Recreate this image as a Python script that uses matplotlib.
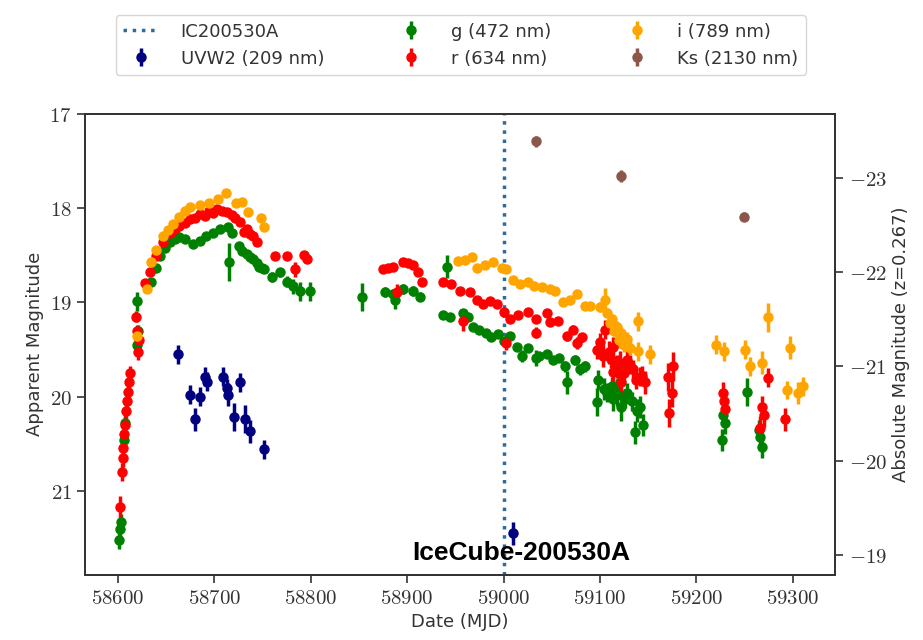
import numpy as np
import matplotlib
matplotlib.use('Agg')
import matplotlib.pyplot as plt
from matplotlib.ticker import FuncFormatter

plt.rcParams['mathtext.fontset'] = 'cm'
plt.rcParams['font.family'] = ['DejaVu Sans']

# neutrino arrival and distance modulus (z=0.267)
t_nu = 59000
dm = 40.68

# UVW2 (209 nm)
uvw2_t = [58662, 58675, 58680, 58685, 58690, 58693, 58709, 58713, 58714, 58721, 58727, 58732, 58737, 58752, 59010]
uvw2_m = [19.55, 19.98, 20.24, 20.00, 19.79, 19.84, 19.79, 19.91, 19.98, 20.22, 19.85, 20.24, 20.37, 20.56, 21.45]
uvw2_e = [0.10, 0.10, 0.12, 0.10, 0.10, 0.10, 0.10, 0.10, 0.12, 0.15, 0.10, 0.15, 0.12, 0.10, 0.12]

# g (472 nm)
g_t = [58601, 58602, 58603, 58607, 58608, 58620, 58621, 58620,
       58635, 58640, 58644, 58649, 58654, 58659, 58664, 58670, 58678, 58685, 58692, 58699, 58706,
       58714, 58719, 58726, 58729, 58734, 58737, 58740, 58744, 58747, 58750, 58752, 58715,
       58760, 58768, 58775, 58782, 58789, 58799, 58853,
       58877, 58885, 58896, 58906, 58913, 58887, 58941, 58937, 58944,
       58958, 58963, 58968, 58975, 58982, 58987, 58994, 59001, 59007, 59014, 59019, 59025, 59034,
       59037, 59045, 59051, 59058, 59064, 59066, 59074, 59079, 59084,
       59098, 59097, 59107, 59112, 59114, 59121, 59122, 59128, 59133, 59136, 59141, 59145,
       59104, 59118, 59126, 59138,
       59228, 59230, 59226, 59252, 59265, 59266, 59268]
g_m = [21.52, 21.40, 21.33, 20.46, 20.28, 18.99, 19.30, 19.45,
       18.78, 18.63, 18.51, 18.42, 18.36, 18.33, 18.31, 18.33, 18.38, 18.35, 18.30, 18.26, 18.22,
       18.20, 18.26, 18.40, 18.45, 18.49, 18.52, 18.54, 18.58, 18.62, 18.64, 18.65, 18.57,
       18.73, 18.68, 18.78, 18.83, 18.88, 18.88, 18.94,
       18.89, 18.91, 18.86, 18.88, 18.94, 18.97, 18.62, 19.13, 19.15,
       19.11, 19.16, 19.26, 19.29, 19.32, 19.37, 19.34, 19.41, 19.36, 19.47, 19.57, 19.48, 19.59,
       19.57, 19.55, 19.61, 19.59, 19.68, 19.85, 19.61, 19.71, 19.68,
       19.82, 20.06, 19.96, 19.89, 20.03, 19.85, 20.11, 19.96, 20.05, 20.38, 20.11, 20.30,
       19.92, 19.98, 20.02, 20.15,
       20.20, 20.28, 20.46, 19.95, 20.35, 20.43, 20.53]
g_e = [0.10, 0.10, 0.08, 0.06, 0.06, 0.10, 0.06, 0.06,
       0.03, 0.03, 0.03, 0.03, 0.03, 0.03, 0.03, 0.03, 0.03, 0.03, 0.03, 0.03, 0.03,
       0.03, 0.03, 0.03, 0.03, 0.03, 0.03, 0.03, 0.03, 0.03, 0.03, 0.03, 0.20,
       0.05, 0.05, 0.06, 0.08, 0.10, 0.10, 0.15,
       0.05, 0.05, 0.05, 0.05, 0.05, 0.10, 0.12, 0.03, 0.03,
       0.03, 0.03, 0.03, 0.03, 0.03, 0.03, 0.03, 0.03, 0.03, 0.04, 0.06, 0.04, 0.08,
       0.04, 0.04, 0.04, 0.04, 0.06, 0.12, 0.05, 0.06, 0.06,
       0.10, 0.15, 0.10, 0.10, 0.12, 0.10, 0.15, 0.10, 0.10, 0.12, 0.12, 0.12,
       0.12, 0.12, 0.10, 0.12,
       0.10, 0.12, 0.12, 0.15, 0.10, 0.12, 0.12]

# r (634 nm)
r_t = [58602, 58604, 58605, 58606, 58607, 58608, 58609, 58610, 58611, 58612, 58613,
       58619, 58620, 58621, 58622,
       58628, 58633, 58640, 58647, 58654, 58659, 58664, 58670, 58675, 58680, 58685, 58690, 58695,
       58699, 58703, 58708, 58713, 58718, 58722, 58727, 58731, 58734, 58737, 58740, 58744,
       58763, 58776, 58784, 58793, 58796,
       58875, 58880, 58885, 58890, 58896, 58901, 58906, 58911, 58915,
       58937, 58946, 58955, 58958, 58965, 58972, 58979, 58986, 58993, 59001, 59003, 59007, 59015,
       59025, 59034, 59034, 59045, 59048, 59056, 59066, 59072, 59076, 59081,
       59097, 59103, 59105, 59109, 59114, 59114, 59121, 59122, 59128, 59134, 59141, 59147,
       59100, 59111, 59118, 59125, 59131, 59137, 59144,
       59171, 59172, 59175, 59176,
       59228, 59229, 59230, 59266, 59268, 59270, 59274, 59292]
r_m = [21.17, 20.80, 20.65, 20.55, 20.40, 20.30, 20.15, 20.05, 19.95, 19.85, 19.75,
       19.15, 19.30, 19.53, 19.40,
       18.79, 18.68, 18.51, 18.36, 18.26, 18.22, 18.19, 18.16, 18.12, 18.10, 18.06, 18.08, 18.03,
       18.05, 18.01, 18.03, 18.04, 18.07, 18.10, 18.15, 18.25, 18.22, 18.27, 18.30, 18.36,
       18.51, 18.51, 18.65, 18.50, 18.54,
       18.65, 18.63, 18.62, 18.89, 18.57, 18.58, 18.60, 18.68, 18.78,
       18.78, 18.81, 18.88, 19.20, 18.89, 18.97, 19.02, 18.99, 19.02, 19.10, 19.43, 19.18, 19.13,
       19.10, 19.18, 19.32, 19.11, 19.21, 19.20, 19.36, 19.29, 19.43, 19.37,
       19.50, 19.57, 19.29, 19.53, 19.47, 19.74, 19.64, 19.85, 19.61, 19.71, 19.79, 19.85,
       19.42, 19.60, 19.68, 19.75, 19.66, 19.82, 19.78,
       19.79, 20.17, 19.96, 19.68,
       19.96, 20.05, 20.13, 20.33, 20.11, 20.20, 19.80, 20.24]
r_e = [0.12, 0.10, 0.10, 0.10, 0.10, 0.10, 0.10, 0.08, 0.08, 0.08, 0.08,
       0.06, 0.06, 0.08, 0.06,
       0.03, 0.03, 0.03, 0.03, 0.03, 0.03, 0.03, 0.03, 0.03, 0.03, 0.03, 0.03, 0.03,
       0.03, 0.03, 0.03, 0.03, 0.03, 0.03, 0.03, 0.03, 0.03, 0.03, 0.03, 0.03,
       0.03, 0.03, 0.08, 0.03, 0.03,
       0.03, 0.03, 0.03, 0.08, 0.03, 0.03, 0.03, 0.03, 0.03,
       0.03, 0.03, 0.03, 0.10, 0.03, 0.03, 0.03, 0.03, 0.03, 0.03, 0.08, 0.04, 0.04,
       0.04, 0.04, 0.06, 0.04, 0.04, 0.04, 0.05, 0.05, 0.06, 0.05,
       0.10, 0.12, 0.10, 0.12, 0.10, 0.12, 0.12, 0.15, 0.10, 0.10, 0.10, 0.12,
       0.10, 0.10, 0.12, 0.10, 0.10, 0.10, 0.10,
       0.15, 0.15, 0.15, 0.15,
       0.12, 0.12, 0.12, 0.12, 0.12, 0.12, 0.10, 0.12]

# i (789 nm)
i_t = [58620, 58630, 58635, 58640, 58647, 58652, 58657, 58664, 58670, 58675, 58685, 58695,
       58704, 58712, 58723, 58729, 58735, 58749, 58752,
       58953, 58960, 58967, 58972, 58981, 58989, 58998, 59003, 59010, 59017, 59025, 59032, 59040,
       59048, 59053, 59062, 59069, 59076, 59084, 59090, 59100, 59105, 59107, 59110, 59112, 59115,
       59118, 59120, 59122, 59125, 59128, 59131, 59139, 59139, 59152,
       59220, 59229, 59250, 59256, 59268, 59274, 59294, 59297, 59305, 59310]
i_m = [19.36, 18.86, 18.57, 18.44, 18.30, 18.23, 18.17, 18.09, 18.03, 17.99, 17.97, 17.95,
       17.90, 17.84, 17.95, 17.94, 18.04, 18.10, 18.20,
       18.56, 18.55, 18.52, 18.63, 18.60, 18.57, 18.63, 18.65, 18.76, 18.81, 18.78, 18.83, 18.84,
       18.86, 18.88, 19.00, 18.97, 18.91, 19.04, 19.04, 19.05, 18.97, 19.11, 19.22, 19.18, 19.30,
       19.26, 19.40, 19.32, 19.45, 19.39, 19.48, 19.20, 19.52, 19.55,
       19.45, 19.52, 19.50, 19.68, 19.64, 19.16, 19.93, 19.48, 19.96, 19.89]
i_e = [0.05, 0.03, 0.03, 0.03, 0.03, 0.03, 0.03, 0.03, 0.03, 0.03, 0.03, 0.03,
       0.03, 0.03, 0.03, 0.03, 0.03, 0.03, 0.03,
       0.03, 0.03, 0.03, 0.03, 0.03, 0.03, 0.03, 0.03, 0.03, 0.03, 0.03, 0.03, 0.03,
       0.03, 0.03, 0.04, 0.04, 0.04, 0.04, 0.04, 0.05, 0.12, 0.05, 0.06, 0.06, 0.06,
       0.06, 0.08, 0.06, 0.08, 0.08, 0.08, 0.10, 0.10, 0.10,
       0.10, 0.10, 0.10, 0.10, 0.12, 0.15, 0.10, 0.12, 0.12, 0.10]

# Ks (2130 nm)
ks_t = [59034, 59122, 59249]
ks_m = [17.29, 17.66, 18.09]
ks_e = [0.06, 0.06, 0.05]

fig = plt.figure(figsize=(9.23, 6.4), dpi=100)
ax = fig.add_axes([0.092, 0.102, 0.813, 0.72])

line = ax.axvline(t_nu, color='#2b6c9e', ls=':', lw=2.5, label='IC200530A', zorder=1)
kw = dict(fmt='o', ms=6.5, elinewidth=2.5, capsize=0, zorder=2)
h1 = ax.errorbar(uvw2_t, uvw2_m, yerr=uvw2_e, color='navy', label='UVW2 (209 nm)', **kw)
h2 = ax.errorbar(g_t, g_m, yerr=g_e, color='green', label='g (472 nm)', **kw)
h3 = ax.errorbar(r_t, r_m, yerr=r_e, color='red', label='r (634 nm)', **kw)
h4 = ax.errorbar(i_t, i_m, yerr=i_e, color='orange', label='i (789 nm)', **kw)
h5 = ax.errorbar(ks_t, ks_m, yerr=ks_e, color='#8c564b', label='Ks (2130 nm)', **kw)

ax.set_xlim(58566, 59344)
ax.set_ylim(21.89, 17.0)
ax.set_xticks([58600, 58700, 58800, 58900, 59000, 59100, 59200, 59300])
ax.set_yticks([17, 18, 19, 20, 21])
fmt = FuncFormatter(lambda v, p: r'$%d$' % v)
ax.xaxis.set_major_formatter(fmt)
ax.yaxis.set_major_formatter(fmt)
ax.tick_params(labelsize=15, length=6, width=1.2, colors='#333333')
ax.set_xlabel('Date (MJD)', fontsize=13, color='#333333')
ax.set_ylabel('Apparent Magnitude', fontsize=13, color='#333333')

ax2 = ax.twinx()
ax2.set_ylim(21.89 - dm, 17.0 - dm)
ax2.set_yticks([-23, -22, -21, -20, -19])
ax2.yaxis.set_major_formatter(fmt)
ax2.tick_params(labelsize=15, length=6, width=1.2, colors='#333333')
ax2.set_ylabel('Absolute Magnitude (z=0.267)', fontsize=13, color='#333333')
for a in (ax, ax2):
    for s in a.spines.values():
        s.set_linewidth(1.3)
        s.set_color('#333333')

ax.text(59018, 21.66, 'IceCube-200530A', ha='center', va='center', fontsize=19,
        fontweight='bold', family='Liberation Sans', color='black', zorder=5)

leg = fig.legend(handles=[line, h1, h2, h3, h4, h5], loc='upper center', bbox_to_anchor=(0.499, 0.99),
                 ncol=3, fontsize=13, columnspacing=3.8, handletextpad=1.2, frameon=True)
for t in leg.get_texts():
    t.set_color('#333333')

fig.savefig('out.png', dpi=100)
